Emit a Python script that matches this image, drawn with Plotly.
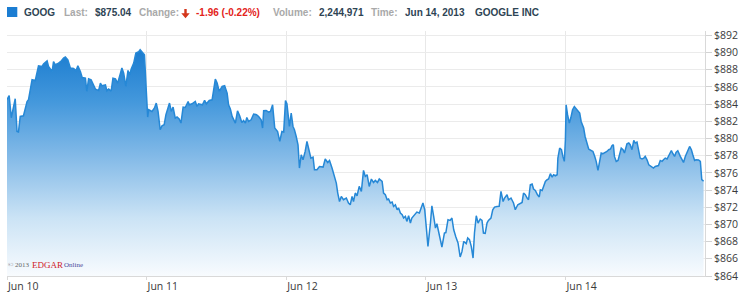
import plotly.graph_objects as go

# ---- data ----
day_labels = ["Jun 10", "Jun 11", "Jun 12", "Jun 13", "Jun 14"]
day_start_minutes = [0, 390, 780, 1170, 1560]
price_ticks = list(range(864, 893, 2))
price_tick_labels = [f"${v}" for v in price_ticks]

minutes = [0,6,12,23,28,32,37,46,56,60,
70,79,88,98,102,112,116,126,130,135,
144,152,158,163,170,177,186,193,198,205,
210,219,223,228,235,242,247,256,261,265,
275,279,284,291,296,303,309,317,321,326,
332,338,343,347,354,360,368,372,379,384,
390,393,396,405,412,417,422,428,433,439,
444,451,454,459,464,470,475,481,486,492,
498,506,509,517,526,531,535,546,552,557,
565,573,577,582,587,593,601,608,615,619,
624,629,638,644,650,656,661,666,670,675,
682,689,697,703,710,714,717,724,731,736,
742,748,756,762,768,773,778,782,789,794,
799,803,808,813,817,822,827,833,838,845,
849,855,859,866,873,883,889,896,901,908,
914,920,924,929,934,940,948,954,959,964,
968,973,978,984,990,996,1001,1006,1012,1018,
1024,1029,1035,1040,1048,1052,1057,1062,1066,1071,
1076,1080,1085,1090,1094,1099,1104,1108,1113,1117,
1122,1127,1131,1138,1145,1152,1157,1162,1167,1172,
1176,1183,1187,1192,1197,1201,1208,1215,1222,1226,
1232,1238,1243,1248,1254,1260,1266,1271,1276,1283,
1287,1292,1297,1302,1306,1311,1316,1322,1327,1331,
1336,1341,1345,1352,1357,1362,1369,1375,1380,1386,
1390,1397,1401,1408,1415,1420,1427,1434,1439,1443,
1448,1453,1457,1462,1467,1471,1476,1482,1487,1490,
1495,1499,1504,1509,1513,1518,1523,1527,1532,1537,
1539,1544,1549,1553,1557,1560,1562,1566,1571,1575,
1580,1585,1590,1595,1600,1604,1611,1615,1620,1625,
1632,1637,1642,1646,1651,1655,1660,1665,1672,1676,
1681,1686,1690,1694,1697,1702,1707,1711,1716,1721,
1725,1732,1737,1741,1746,1751,1755,1760,1765,1769,
1774,1779,1783,1788,1793,1800,1806,1811,1816,1820,
1825,1830,1834,1839,1844,1848,1853,1856,1860,1865,
1869,1874,1881,1886,1890,1895,1900,1904,1907,1912,
1916,1921,1925,1932,1937,1941,1946]

prices = [884.50,885.00,882.41,884.62,880.81,880.75,882.56,882.64,884.30,884.50,
886.83,886.74,888.45,888.37,888.65,889.03,888.37,887.79,888.95,888.57,
888.77,889.03,889.35,889.47,889.15,888.19,888.15,887.91,888.45,887.79,
887.09,887.02,885.47,886.94,886.83,886.24,885.74,885.58,886.44,886.13,
886.24,885.55,885.74,885.50,887.02,886.94,886.44,887.60,888.19,887.60,
886.05,887.91,887.41,888.07,888.77,889.93,890.08,890.31,889.93,889.73,
884.88,882.49,883.34,883.14,883.54,884.12,883.14,881.01,881.48,881.59,
882.76,883.54,884.12,883.14,883.65,882.37,882.49,882.26,881.79,883.65,
883.60,884.30,883.92,884.03,884.30,883.72,884.03,883.92,884.42,884.03,
884.42,884.50,885.66,886.91,886.44,885.47,886.05,886.13,885.28,883.92,
883.42,882.56,881.79,883.22,882.64,881.86,882.09,881.79,882.44,881.98,
882.17,882.84,882.76,882.56,882.17,881.21,883.22,883.26,883.07,883.14,
883.92,881.21,880.81,879.65,880.81,880.75,884.42,884.03,881.40,882.95,
881.40,881.01,880.23,879.27,876.56,878.10,877.52,878.49,879.65,878.49,
877.72,877.84,876.36,876.36,876.74,876.67,877.61,877.21,877.44,876.56,
875.78,874.81,873.65,872.67,873.26,872.87,873.07,872.49,872.29,873.26,
872.67,873.65,873.34,874.42,873.84,876.28,875.58,875.78,874.42,875.28,
874.88,875.12,874.88,875.28,875.00,873.65,873.45,872.87,872.95,872.49,
872.60,872.09,872.29,871.71,871.91,871.33,871.13,870.74,870.93,870.35,
871.01,870.16,870.74,871.13,871.44,871.33,872.02,872.49,871.71,869.00,
867.44,870.16,872.17,870.93,869.58,870.08,868.53,867.37,869.00,869.05,
870.55,870.47,870.74,869.38,868.53,867.84,866.21,866.83,868.02,867.76,
868.42,868.22,867.44,866.09,869.00,871.01,870.16,870.63,870.47,869.00,
868.95,870.16,870.47,870.74,871.71,872.02,872.09,872.10,873.84,872.67,
873.07,873.45,872.87,873.07,872.49,871.71,872.29,872.49,872.56,873.65,
873.45,873.07,872.87,874.62,874.70,874.12,873.95,873.45,873.19,874.03,
873.95,874.42,875.00,875.20,875.28,875.90,875.51,875.78,875.66,875.78,
877.72,878.88,878.69,877.91,877.33,879.85,883.92,882.76,881.79,882.37,
883.34,883.72,883.42,883.14,882.95,881.98,881.21,880.23,879.47,878.77,
878.60,878.49,877.91,877.33,876.28,877.33,878.30,878.22,878.37,878.49,
878.69,878.77,879.15,879.27,877.91,877.33,877.44,878.10,878.88,878.69,
878.30,879.38,879.47,879.27,878.69,879.77,879.47,879.58,878.69,877.72,
877.61,877.72,877.91,877.52,876.94,876.74,876.56,876.74,876.83,876.85,
877.44,877.33,877.52,877.72,877.61,877.91,878.30,878.60,878.25,877.91,
878.37,878.57,877.91,877.44,877.21,877.91,878.30,878.77,879.07,878.69,
878.10,877.44,877.52,877.50,877.33,875.20,875.04]

assert len(minutes) == len(prices)

symbol = "GOOG"
last_price = "$875.04"
change_text = "-1.96 (-0.22%)"
volume_text = "2,244,971"
time_text = "Jun 14, 2013"
company = "GOOGLE INC"

# ---- layout geometry ----
W, H = 750, 302
ML, MR, MT, MB = 7, 45, 31, 26
PW, PH = W - ML - MR, H - MT - MB


def px(x):
    return (x - ML) / PW


def py(y):
    return (H - MB - y) / PH


fig = go.Figure()
fig.add_trace(go.Scatter(
    x=minutes, y=prices, mode="lines",
    line=dict(color="rgb(38,136,214)", width=1.5),
    fill="tozeroy",
    fillgradient=dict(
        type="vertical", start=864, stop=891,
        colorscale=[[0, "rgb(248,251,254)"], [0.25, "rgb(203,227,245)"],
                    [0.5, "rgb(135,188,232)"], [0.75, "rgb(68,152,220)"],
                    [1, "rgb(22,121,206)"]]),
    hoverinfo="skip", showlegend=False,
))

axis_font = dict(family="Open Sans", size=10.5, color="#3a3a3a")

fig.update_layout(
    width=W, height=H,
    margin=dict(l=ML, r=MR, t=MT, b=MB, pad=0),
    paper_bgcolor="white", plot_bgcolor="white",
    showlegend=False,
    xaxis=dict(
        range=[0, 1950], tickvals=day_start_minutes, ticktext=day_labels,
        ticklabelposition="outside right", tickfont=axis_font,
        showgrid=True, gridcolor="#e8e8e8", gridwidth=1,
        showline=True, linecolor="#d9d9d9", linewidth=1,
        ticks="outside", ticklen=3, tickcolor="#d9d9d9",
        zeroline=False, fixedrange=True,
    ),
    yaxis=dict(
        side="right", range=[864, 892.5],
        tickvals=price_ticks, ticktext=price_tick_labels, tickfont=axis_font,
        showgrid=True, gridcolor="#ebebeb", gridwidth=1,
        showline=True, linecolor="#d9d9d9", linewidth=1,
        ticks="outside", ticklen=6, tickcolor="#d3d3d3",
        zeroline=False, fixedrange=True,
    ),
)

# ---- header ----
fig.add_shape(type="rect", xref="paper", yref="paper",
              x0=px(7), x1=px(17.3), y0=py(17), y1=py(7),
              fillcolor="#1b7dd2", line=dict(width=0))

hdr_dark = "#2e4454"
hdr_gray = "#a9a9a9"
hdr = [
    (23, symbol, hdr_dark),
    (63, "Last:", hdr_gray),
    (94, last_price, hdr_dark),
    (138, "Change:", hdr_gray),
    (195, change_text, "#e3231b"),
    (272, "Volume:", hdr_gray),
    (318, volume_text, hdr_dark),
    (370, "Time:", hdr_gray),
    (404, time_text, hdr_dark),
    (474, company, hdr_dark),
]
for x0, txt, col in hdr:
    fig.add_annotation(x=px(x0 - 1), y=py(12.5), xref="paper", yref="paper",
                       text=f"<b>{txt}</b>", showarrow=False,
                       xanchor="left", yanchor="middle",
                       font=dict(family="Liberation Sans", size=10, color=col))

# red down arrow
ax = [(184.3, 9), (186.7, 9), (186.7, 13.3), (189.7, 13.3), (185.5, 18.3), (181.3, 13.3), (184.3, 13.3)]
path = "M " + " L ".join(f"{px(a)},{py(b)}" for a, b in ax) + " Z"
fig.add_shape(type="path", xref="paper", yref="paper", path=path,
              fillcolor="#d4361c", line=dict(width=0))

# ---- copyright ----
fig.add_annotation(x=px(6), y=py(265), xref="paper", yref="paper",
                   text="© 2013", showarrow=False, xanchor="left", yanchor="middle",
                   font=dict(family="Liberation Serif", size=7, color="#666666"))
fig.add_annotation(x=px(30), y=py(264.5), xref="paper", yref="paper",
                   text="EDGAR", showarrow=False, xanchor="left", yanchor="middle",
                   font=dict(family="Liberation Serif", size=9, color="#d0202a"))
fig.add_annotation(x=px(62), y=py(265), xref="paper", yref="paper",
                   text="Online", showarrow=False, xanchor="left", yanchor="middle",
                   font=dict(family="Liberation Serif", size=7, color="#4a4a9a"))

fig.write_html("out.html")
